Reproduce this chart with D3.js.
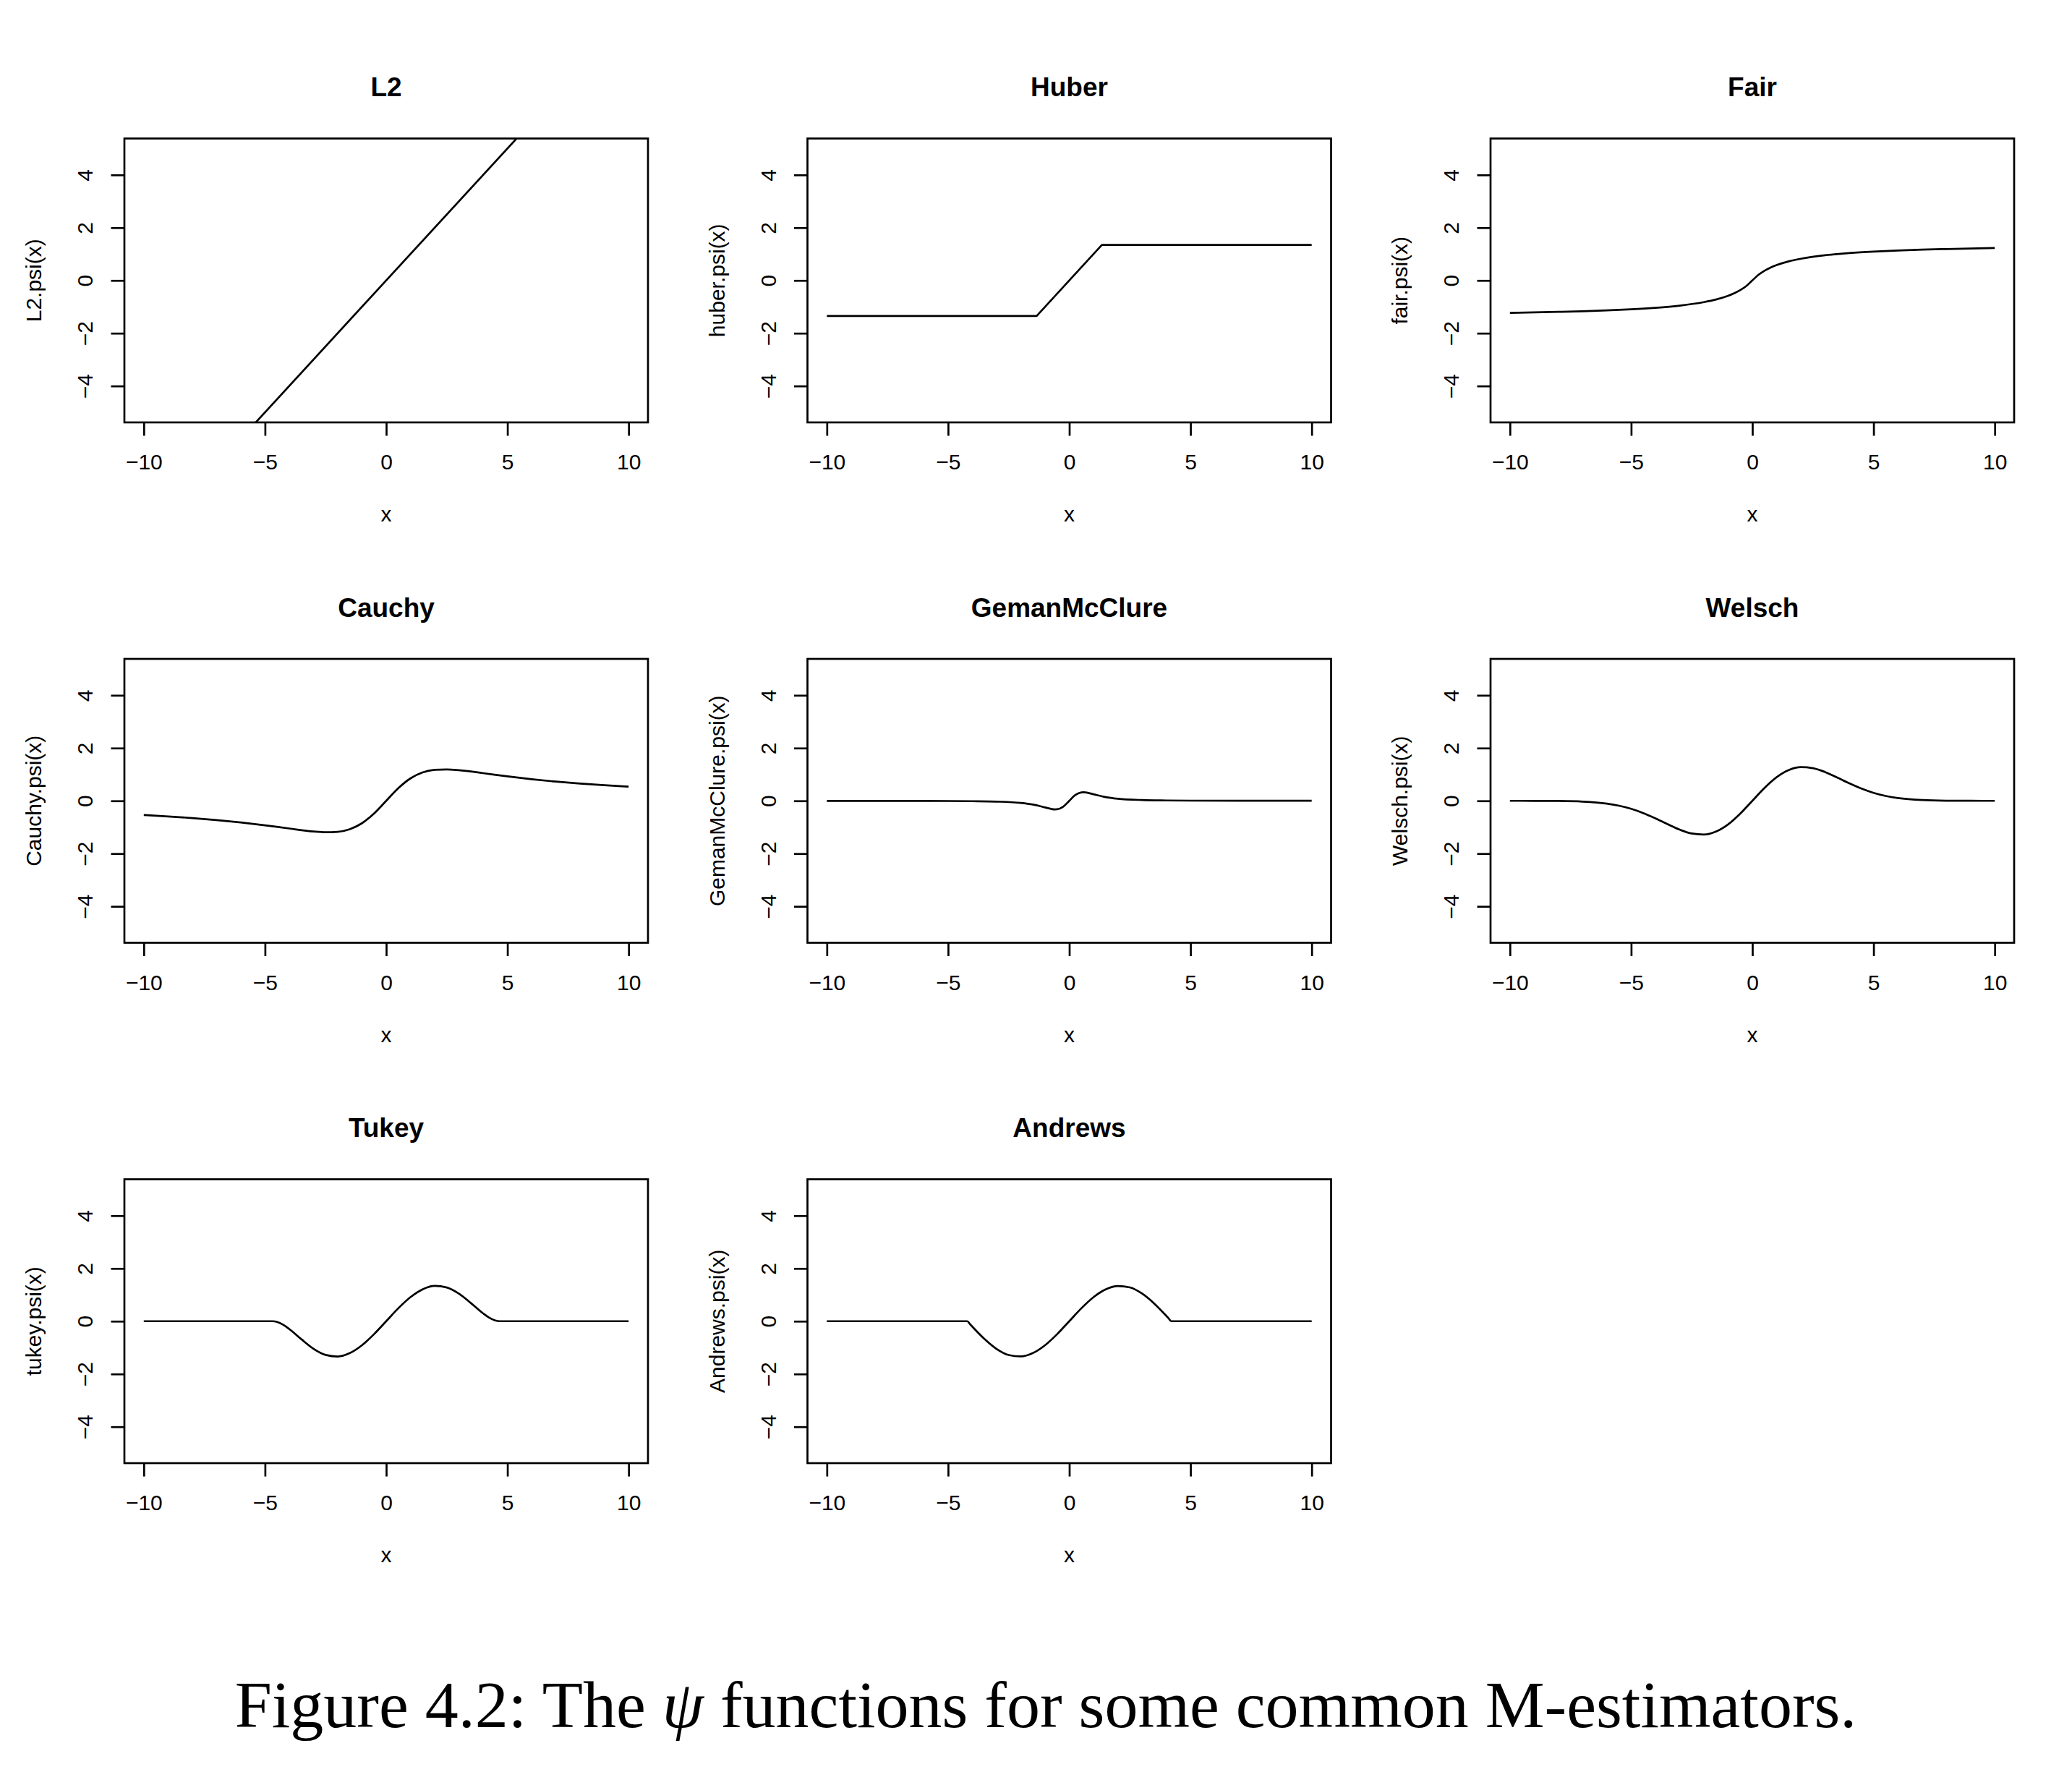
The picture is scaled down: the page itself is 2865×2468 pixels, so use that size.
<!DOCTYPE html>
<html>
<head>
<meta charset="utf-8">
<script src="https://d3js.org/d3.v7.min.js"></script>
<style>
body { margin: 0; background: #fff; }
</style>
</head>
<body>
<script>
// panel titles and y labels, in plotting order
var titles = ["L2", "Huber", "Fair", "Cauchy", "GemanMcClure", "Welsch", "Tukey", "Andrews"];
var yLabels = ["L2.psi(x)", "huber.psi(x)", "fair.psi(x)", "Cauchy.psi(x)",
	"GemanMcClure.psi(x)", "Welsch.psi(x)", "tukey.psi(x)", "Andrews.psi(x)"];
var xTicks = [-10, -5, 0, 5, 10];
var yTicks = [-4, -2, 0, 2, 4];

// values
var l2X = [-10, 10];
var l2Y = [-10, 10];

var huberX = [-10, -1.345, 1.345, 10];
var huberY = [-1.345, -1.345, 1.345, 1.345];

var fairX = [-10, -8, -7, -6, -5, -4, -3, -2, -1.5, -1, -0.75, -0.5, -0.25, 0, 0.25, 0.5, 0.75, 1, 1.5, 2, 3, 4, 5, 6, 7, 8, 10];
var fairY = [-1.228, -1.191, -1.167, -1.135, -1.094, -1.037, -0.954, -0.823, -0.724, -0.583, -0.488, -0.368, -0.212, 0,
	0.212, 0.368, 0.488, 0.583, 0.724, 0.823, 0.954, 1.037, 1.094, 1.135, 1.167, 1.191, 1.228];

var cauchyX = [-10, -9, -8, -7, -6, -5, -4, -3, -2.5, -2, -1.5, -1, -0.5, 0, 0.5, 1, 1.5, 2, 2.5, 3, 4, 5, 6, 7, 8, 9, 10];
var cauchyY = [-0.538, -0.591, -0.653, -0.728, -0.819, -0.927, -1.049, -1.162, -1.191, -1.174, -1.075, -0.850, -0.479, 0,
	0.479, 0.850, 1.075, 1.174, 1.191, 1.162, 1.049, 0.927, 0.819, 0.728, 0.653, 0.591, 0.538];

var gemanX = [-10, -7, -5, -4, -3, -2, -1.5, -1, -0.75, -0.6, -0.5, -0.25, 0, 0.25, 0.5, 0.6, 0.75, 1, 1.5, 2, 3, 4, 5, 7, 10];
var gemanY = [-0.001, -0.003, -0.007, -0.014, -0.03, -0.08, -0.142, -0.25, -0.307, -0.324, -0.32, -0.221, 0,
	0.221, 0.32, 0.324, 0.307, 0.25, 0.142, 0.08, 0.03, 0.014, 0.007, 0.003, 0.001];

var welschX = [-10, -9, -8, -7, -6, -5.5, -5, -4.5, -4, -3.5, -3, -2.5, -2, -1.5, -1, -0.5, 0,
	0.5, 1, 1.5, 2, 2.5, 3, 3.5, 4, 4.5, 5, 5.5, 6, 7, 8, 9, 10];
var welschY = [0, -0.001, -0.006, -0.029, -0.106, -0.184, -0.302, -0.464, -0.664, -0.884, -1.092, -1.239, -1.277, -1.165, -0.894, -0.486, 0,
	0.486, 0.894, 1.165, 1.277, 1.239, 1.092, 0.884, 0.664, 0.464, 0.302, 0.184, 0.106, 0.029, 0.006, 0.001, 0];

var tukeyX = [-10, -4.685, -4.5, -4.25, -4, -3.5, -3, -2.5, -2, -1.5, -1, -0.5, 0, 0.5, 1, 1.5, 2, 2.5, 3, 3.5, 4, 4.25, 4.5, 4.685, 10];
var tukeyY = [0, 0, -0.027, -0.133, -0.294, -0.683, -1.044, -1.279, -1.338, -1.208, -0.911, -0.489, 0,
	0.489, 0.911, 1.208, 1.338, 1.279, 1.044, 0.683, 0.294, 0.133, 0.027, 0, 0];

var andrewsX = [-10, -4.207, -4.1, -4, -3.5, -3, -2.5, -2, -1.5, -1, -0.5, 0, 0.5, 1, 1.5, 2, 2.5, 3, 3.5, 4, 4.1, 4.207, 10];
var andrewsY = [0, 0, -0.107, -0.206, -0.673, -1.050, -1.281, -1.335, -1.206, -0.910, -0.489, 0,
	0.489, 0.910, 1.206, 1.335, 1.281, 1.050, 0.673, 0.206, 0.107, 0, 0];

var seriesX = [l2X, huberX, fairX, cauchyX, gemanX, welschX, tukeyX, andrewsX];
var seriesY = [l2Y, huberY, fairY, cauchyY, gemanY, welschY, tukeyY, andrewsY];

var width = 2865, height = 2468;
var sans = "'Liberation Sans', Arial, Helvetica, sans-serif";
var lw = 2.7;

var svg = d3.select("body").append("svg")
	.attr("width", width)
	.attr("height", height);
svg.append("rect").attr("width", width).attr("height", height).attr("fill", "white");

// each panel box, R style (4% padding on x)
var boxW = 724, boxH = 392.5;
var x = d3.scaleLinear().domain([-10.8, 10.8]).range([0, boxW]);
var y = d3.scaleLinear().domain([-5.38, 5.38]).range([boxH, 0]);

titles.forEach(function(t, i) {
	var col = i % 3, row = Math.floor(i / 3);
	var g = svg.append("g")
		.attr("transform", "translate(" + (172 + col * 944.5) + "," + (191.5 + row * 719.5) + ")");

	g.append("clipPath").attr("id", "clip" + i)
		.append("rect").attr("width", boxW).attr("height", boxH);

	var curve = (i < 2) ? d3.curveLinear : d3.curveMonotoneX;
	var line = d3.line()
		.x(function(d) { return x(d[0]); })
		.y(function(d) { return y(d[1]); })
		.curve(curve);

	g.append("path")
		.datum(d3.zip(seriesX[i], seriesY[i]))
		.attr("clip-path", "url(#clip" + i + ")")
		.attr("d", line)
		.attr("fill", "none")
		.attr("stroke", "black")
		.attr("stroke-width", lw)
		.attr("stroke-linejoin", "round");

	// x axis
	var ax = g.append("g")
		.attr("transform", "translate(0," + boxH + ")")
		.call(d3.axisBottom(x).tickValues(xTicks).tickSize(18.5).tickSizeOuter(0))
		.attr("font-size", 30)
		.attr("font-family", sans);
	ax.select(".domain").remove();
	ax.selectAll("line").attr("stroke", "black").attr("stroke-width", lw);
	ax.selectAll("text").attr("y", 65).attr("dy", null).attr("fill", "black");

	// y axis, labels turned like R does
	var ay = g.append("g")
		.call(d3.axisLeft(y).tickValues(yTicks).tickSize(18.5).tickSizeOuter(0))
		.attr("font-size", 30)
		.attr("font-family", sans);
	ay.select(".domain").remove();
	ay.selectAll("line").attr("stroke", "black").attr("stroke-width", lw);
	ay.selectAll("text")
		.attr("x", 0).attr("dy", null)
		.attr("text-anchor", "middle")
		.attr("fill", "black")
		.attr("transform", "translate(-44,0) rotate(-90)");

	g.append("rect")
		.attr("width", boxW).attr("height", boxH)
		.attr("fill", "none")
		.attr("stroke", "black")
		.attr("stroke-width", lw);

	g.append("text")
		.attr("x", boxW / 2).attr("y", -58.5)
		.attr("text-anchor", "middle")
		.attr("font-family", sans)
		.attr("font-weight", "bold")
		.attr("font-size", 37)
		.text(t);

	g.append("text")
		.attr("x", boxW / 2).attr("y", boxH + 137)
		.attr("text-anchor", "middle")
		.attr("font-family", sans)
		.attr("font-size", 30)
		.text("x");

	g.append("text")
		.attr("transform", "translate(-114.6," + (boxH / 2) + ") rotate(-90)")
		.attr("text-anchor", "middle")
		.attr("font-family", sans)
		.attr("font-size", 30)
		.text(yLabels[i]);
});

// figure caption
var cap = svg.append("text")
	.attr("x", 1446).attr("y", 2388)
	.attr("text-anchor", "middle")
	.attr("font-family", "'Liberation Serif', 'Times New Roman', serif")
	.attr("font-size", 92);
cap.append("tspan").text("Figure 4.2: The ");
cap.append("tspan").attr("font-style", "italic").text("ψ");
cap.append("tspan").text(" functions for some common M-estimators.");
</script>
</body>
</html>
